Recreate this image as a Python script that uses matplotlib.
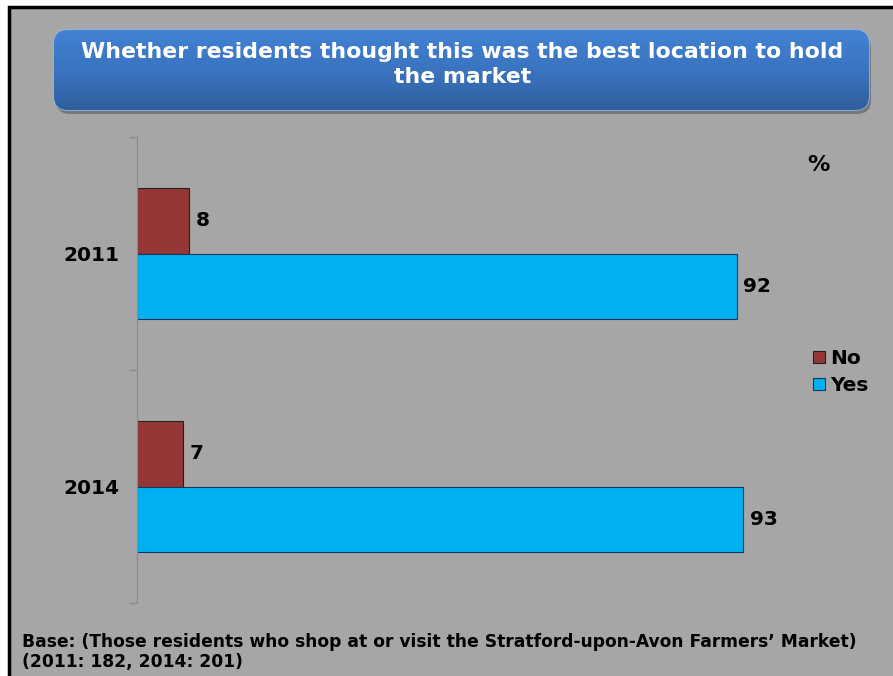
import numpy as np
import matplotlib
matplotlib.use("Agg")
from matplotlib import pyplot as plt
from matplotlib.patches import FancyBboxPatch

# data
years = ["2011", "2014"]
no_vals = [8, 7]
yes_vals = [92, 93]
series_names = ["No", "Yes"]

title = "Whether residents thought this was the best location to hold\nthe market"
footnote = ("Base: (Those residents who shop at or visit the Stratford-upon-Avon Farmers\u2019 Market)\n"
            "(2011: 182, 2014: 201)")

W, H = 893, 676
BG = "#a6a6a6"
NO_COLOR = "#953735"
YES_COLOR = "#00b0f0"


def main():
    plt.rcParams['font.family'] = ['DejaVu Sans']
    fig = plt.figure(figsize=(W / 100, H / 100), dpi=100)
    fig.patch.set_facecolor("white")

    # background layer in pixel coordinates
    bg = fig.add_axes([0, 0, 1, 1], zorder=0)
    bg.set_xlim(0, W)
    bg.set_ylim(H, 0)
    bg.axis("off")
    bg.add_patch(plt.Rectangle((9, 7), W + 20, H + 20, facecolor=BG,
                               edgecolor="black", lw=2.5))

    # title box with shadow and gradient
    x0, y0, x1, y1 = 54, 30, 869, 110
    shadow = FancyBboxPatch((x0 + 2, y0 + 4), x1 - x0, y1 - y0,
                            boxstyle="round,pad=0,rounding_size=14",
                            facecolor="#5a5a5a", edgecolor="none", alpha=0.6)
    bg.add_patch(shadow)
    box = FancyBboxPatch((x0, y0), x1 - x0, y1 - y0,
                         boxstyle="round,pad=0,rounding_size=14",
                         facecolor="none", edgecolor="#8fb4e8", lw=1.2)
    bg.add_patch(box)
    grad = np.linspace(0, 1, 256).reshape(-1, 1)
    cmap = matplotlib.colors.LinearSegmentedColormap.from_list(
        "tb", ["#4282d3", "#3a74c0", "#2f5e9c"])
    im = bg.imshow(grad, cmap=cmap, extent=(x0, x1, y1, y0), aspect="auto",
                   zorder=2)
    im.set_clip_path(box)
    bg.set_xlim(0, W)
    bg.set_ylim(H, 0)
    bg.text((x0 + x1) / 2 + 1, 64.5, title, ha="center", va="center",
            color="white", fontsize=15.8, fontweight="bold", linespacing=1.3,
            zorder=3)

    bg.text(22, 652, footnote, ha="left", va="center", color="black",
            fontsize=12.3, fontweight="bold", linespacing=1.2)

    # chart axes
    left, right = 137, 789
    top, bottom = 137, 603
    ax = fig.add_axes([left / W, 1 - bottom / H, (right - left) / W,
                       (bottom - top) / H], zorder=1)
    ax.patch.set_alpha(0)

    y = np.arange(len(years))
    h = 0.283
    ax.barh(y - h / 2, no_vals, height=h, color=NO_COLOR, edgecolor="#222222",
            lw=0.8, label=series_names[0])
    ax.barh(y + h / 2, yes_vals, height=h, color=YES_COLOR, edgecolor="#17375e",
            lw=0.8, label=series_names[1])
    for i in range(len(years)):
        ax.text(no_vals[i] + 1.0, y[i] - h / 2, str(no_vals[i]), va="center",
                ha="left", fontsize=14.5, fontweight="bold")
        ax.text(yes_vals[i] + 1.0, y[i] + h / 2, str(yes_vals[i]), va="center",
                ha="left", fontsize=14.5, fontweight="bold")

    ax.set_xlim(0, 100)
    ax.set_ylim(1.5, -0.5)
    ax.set_yticks([-0.5, 0.5, 1.5])
    ax.set_yticklabels([])
    ax.set_yticks(y, minor=True)
    ax.set_yticklabels(years, minor=True, fontsize=14.5, fontweight="bold")
    ax.tick_params(axis="y", which="major", length=6, color="#8a8a8a", width=1)
    ax.tick_params(axis="y", which="minor", length=0, pad=13)
    ax.set_xticks([])
    for s in ["top", "right", "bottom"]:
        ax.spines[s].set_visible(False)
    ax.spines["left"].set_color("#8a8a8a")

    ax.legend(loc="upper left", bbox_to_anchor=(805 / W, 1 - 341 / H),
              bbox_transform=fig.transFigure, frameon=False,
              prop={"size": 14.5, "weight": "bold"}, handlelength=0.6,
              handleheight=0.6, handletextpad=0.25, labelspacing=0.4,
              borderaxespad=0)

    bg.text(818, 165, "%", ha="center", va="center", fontsize=16,
            fontweight="bold")

    fig.savefig("out.png", dpi=100)


if __name__ == '__main__':
    main()
